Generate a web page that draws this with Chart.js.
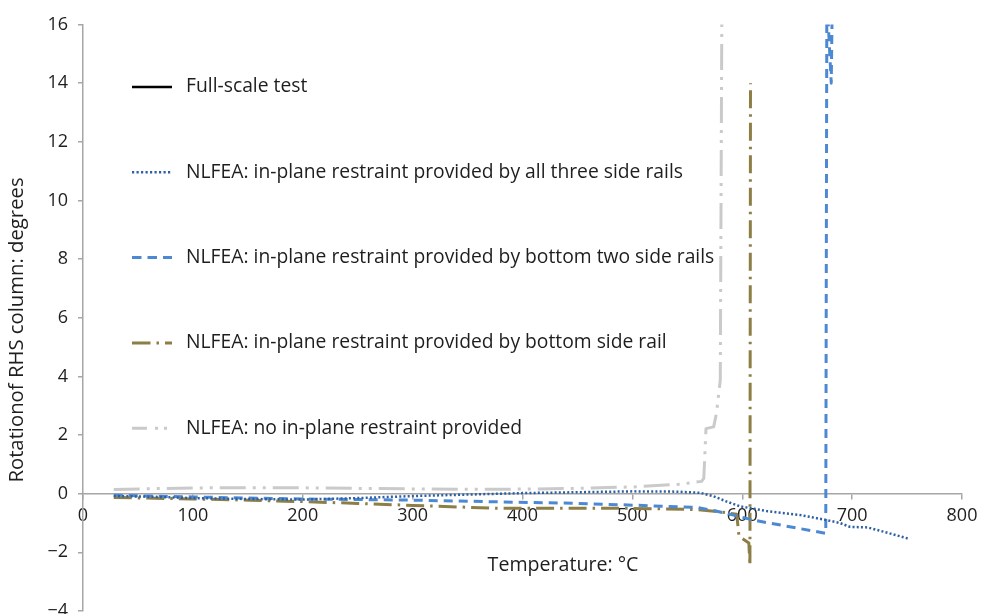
<!DOCTYPE html>
<html>
<head>
<meta charset="utf-8">
<script src="https://cdn.jsdelivr.net/npm/chart.js@4.4.1/dist/chart.umd.min.js"></script>
<style>
  html, body { margin: 0; padding: 0; background: #ffffff; }
  #wrap { width: 984px; height: 614px; }
</style>
</head>
<body>
<div id="wrap"><canvas id="chart" width="984" height="614"></canvas></div>
<script>
// Axis ticks
const xTickValues = [0, 100, 200, 300, 400, 500, 600, 700, 800];
const yTickValues = [-4, -2, 0, 2, 4, 6, 8, 10, 12, 14, 16];

// Series labels
const seriesLabels = [
  'Full-scale test',
  'NLFEA: in-plane restraint provided by all three side rails',
  'NLFEA: in-plane restraint provided by bottom two side rails',
  'NLFEA: in-plane restraint provided by bottom side rail',
  'NLFEA: no in-plane restraint provided'
];

// Full-scale test (no readings plotted)
const testTemp = [];
const testRot = [];

// NLFEA, all three side rails
const threeRailTemp = [28, 60, 100, 150, 200, 250, 300, 350, 400, 450, 500, 540, 562, 574, 586, 598, 622, 653, 677, 689, 698, 714, 729, 751];
const threeRailRot  = [-0.08, -0.1, -0.15, -0.18, -0.2, -0.15, -0.08, -0.03, 0.02, 0.05, 0.08, 0.07, 0.03, -0.09, -0.27, -0.43, -0.59, -0.73, -0.9, -1.0, -1.13, -1.15, -1.3, -1.53];

// NLFEA, bottom two side rails
const twoRailTemp = [28, 60, 100, 150, 200, 250, 300, 380, 450, 500, 559, 575, 592, 610, 676, 677, 681, 682];
const twoRailRot  = [-0.05, -0.08, -0.11, -0.15, -0.18, -0.2, -0.22, -0.28, -0.33, -0.39, -0.47, -0.58, -0.73, -0.9, -1.35, 17, 14, 17];

// NLFEA, bottom side rail
const oneRailTemp = [28, 100, 152, 200, 250, 300, 380, 450, 500, 559, 580, 595, 597, 606, 607, 607.5];
const oneRailRot  = [-0.13, -0.18, -0.22, -0.27, -0.33, -0.4, -0.5, -0.5, -0.5, -0.54, -0.62, -0.7, -1.45, -1.68, -2.45, 14.0];

// NLFEA, no restraint
const noRailTemp = [28, 60, 116, 200, 252, 343, 380, 450, 500, 543, 563, 565, 567, 574, 576.5, 580, 581.5];
const noRailRot  = [0.14, 0.17, 0.2, 0.2, 0.18, 0.15, 0.15, 0.18, 0.23, 0.32, 0.42, 0.52, 2.22, 2.28, 2.74, 3.87, 17];

function pairs(xs, ys) { return xs.map((x, i) => ({ x: x, y: ys[i] })); }

const FONT = "'Open Sans', 'Noto Sans', sans-serif";
const TEXT = '#1e1e1e';
const AXIS = '#a6a6a6';

const datasets = [
  { label: seriesLabels[0], data: pairs(testTemp, testRot), borderColor: '#000000', borderWidth: 2.5, borderDash: [], legendDash: [] },
  { label: seriesLabels[1], data: pairs(threeRailTemp, threeRailRot), borderColor: '#2e5fa4', borderWidth: 2.5, borderDash: [2, 2.2], legendDash: [2.2, 2.3] },
  { label: seriesLabels[2], data: pairs(twoRailTemp, twoRailRot), borderColor: '#4d89d3', borderWidth: 3, borderDash: [9, 6], legendDash: [9.5, 6] },
  { label: seriesLabels[3], data: pairs(oneRailTemp, oneRailRot), borderColor: '#8d7e45', borderWidth: 3, borderDash: [18, 6, 2.5, 6], legendDash: [18.5, 6, 2.5, 6] },
  { label: seriesLabels[4], data: pairs(noRailTemp, noRailRot), borderColor: '#cacaca', borderWidth: 3, borderDash: [26, 7, 3, 7, 3, 7], legendDash: [15, 8, 3, 6, 3, 6] }
].map(d => Object.assign({ pointRadius: 0, pointHoverRadius: 0, tension: 0, fill: false, borderCapStyle: 'butt', borderJoinStyle: 'round' }, d));

// In-plot legend and axis titles
const annotate = {
  id: 'annotate',
  afterDraw(chart) {
    const ctx = chart.ctx;
    const area = chart.chartArea;
    ctx.save();
    ctx.fillStyle = TEXT;
    ctx.textBaseline = 'middle';
    const sx0 = area.left + 49, sx1 = area.left + 89, tx = area.left + 103;
    ctx.font = '19.3px ' + FONT;
    chart.data.datasets.forEach((ds, i) => {
      const y = area.top + 62.5 + i * 85.3;
      ctx.save();
      ctx.strokeStyle = ds.borderColor;
      ctx.lineWidth = ds.borderWidth;
      ctx.setLineDash(ds.legendDash);
      ctx.lineCap = 'butt';
      ctx.beginPath();
      ctx.moveTo(sx0, y);
      ctx.lineTo(sx1, y);
      ctx.stroke();
      ctx.restore();
      ctx.textAlign = 'left';
      ctx.fillText(ds.label, tx, y);
    });

    const y0 = chart.scales.y.getPixelForValue(0);
    ctx.textAlign = 'center';
    ctx.font = '19.6px ' + FONT;
    ctx.fillText('Temperature: \u00B0C', area.left + 480, y0 + 72);

    ctx.font = '20.3px ' + FONT;
    ctx.translate(17, 330);
    ctx.rotate(-Math.PI / 2);
    ctx.fillText('Rotationof RHS column: degrees', 0, 0);
    ctx.restore();
  }
};

new Chart(document.getElementById('chart'), {
  type: 'line',
  data: { datasets: datasets },
  plugins: [annotate],
  options: {
    responsive: false,
    animation: false,
    devicePixelRatio: 1,
    layout: { padding: { left: 0, top: 24.5, right: 22, bottom: 3 } },
    plugins: { legend: { display: false }, tooltip: { enabled: false } },
    scales: {
      x: {
        type: 'linear',
        min: 0, max: 800,
        position: { y: 0 },
        afterBuildTicks: s => { s.ticks = xTickValues.map(v => ({ value: v })); },
        ticks: { color: TEXT, font: { family: FONT, size: 18 }, padding: 6, maxRotation: 0 },
        grid: { drawOnChartArea: false, drawTicks: true, tickLength: 5, color: AXIS, lineWidth: 1.5 },
        border: { color: AXIS, width: 1.5 },
        afterFit: s => { s.height = 0; s.paddingLeft = 0; s.paddingRight = 0; }
      },
      y: {
        type: 'linear',
        min: -4, max: 16,
        position: 'left',
        afterBuildTicks: s => { s.ticks = yTickValues.map(v => ({ value: v })); },
        ticks: { color: TEXT, font: { family: FONT, size: 18 }, padding: 10, callback: v => String(v).replace('-', '\u2212') },
        grid: { drawOnChartArea: false, drawTicks: true, tickLength: 5, color: AXIS, lineWidth: 1.5 },
        border: { color: AXIS, width: 1.5 },
        afterFit: s => { s.width = 83; s.paddingTop = 0; s.paddingBottom = 0; }
      }
    }
  }
});
</script>
</body>
</html>
